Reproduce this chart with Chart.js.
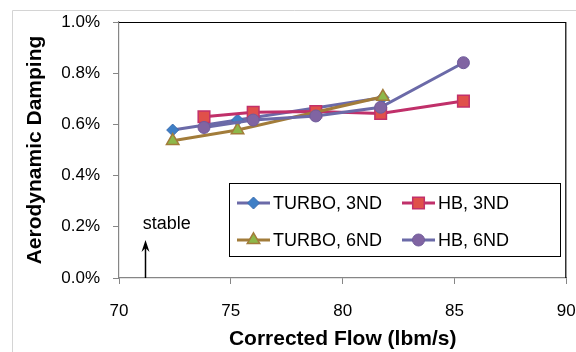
<!DOCTYPE html>
<html>
<head>
<meta charset="utf-8">
<script src="https://cdn.jsdelivr.net/npm/chart.js@4/dist/chart.umd.min.js"></script>
<style>
  body { margin: 0; background: #fff; }
  #wrap { width: 576px; height: 352px; }
</style>
</head>
<body>
<div id="wrap"><canvas id="myChart" width="576" height="352"></canvas></div>
<script>
const ctx = document.getElementById('myChart');

// corrected flow (lbm/s) and aerodynamic damping (%)
const flowTurbo3 = [72.4, 75.3, 81.8];
const dampTurbo3 = [0.578, 0.617, 0.705];
const flowHB3 = [73.8, 76.0, 78.8, 81.7, 85.4];
const dampHB3 = [0.630, 0.647, 0.650, 0.643, 0.691];
const flowTurbo6 = [72.4, 75.3, 81.8];
const dampTurbo6 = [0.536, 0.578, 0.708];
const flowHB6 = [73.8, 76.0, 78.8, 81.7, 85.4];
const dampHB6 = [0.588, 0.617, 0.633, 0.667, 0.841];

const xTicks = [70, 75, 80, 85, 90];
const yTicks = [0, 0.2, 0.4, 0.6, 0.8, 1.0];

const pts = (xs, ys) => xs.map((x, i) => ({x: x, y: ys[i]}));

Chart.defaults.font.family = '"Liberation Sans", Arial, sans-serif';
Chart.defaults.color = '#000';

// light frame round the whole chart + black top/right plot border
const frame = {
    id: 'frame',
    beforeDraw(chart) {
        const c = chart.ctx;
        c.save();
        c.fillStyle = '#fff';
        c.fillRect(0, 0, chart.width, chart.height);
        c.strokeStyle = '#d4d4d4';
        c.lineWidth = 1;
        c.beginPath();
        c.moveTo(12.5, chart.height);
        c.lineTo(12.5, 10.5);
        c.lineTo(chart.width, 10.5);
        c.stroke();
        c.restore();
    },
    beforeDatasetsDraw(chart) {
        const a = chart.chartArea;
        const c = chart.ctx;
        c.save();
        c.strokeStyle = '#000';
        c.lineWidth = 1.2;
        c.beginPath();
        c.moveTo(a.left, a.top + 0.5);
        c.lineTo(a.right - 0.5, a.top + 0.5);
        c.lineTo(a.right - 0.5, a.bottom);
        c.stroke();
        c.restore();
    }
};

// "stable" note with arrow
const stableNote = {
    id: 'stableNote',
    afterDatasetsDraw(chart) {
        const c = chart.ctx;
        const xs = chart.scales.x, ys = chart.scales.y;
        const x = Math.round(xs.getPixelForValue(71.15)) + 0.5;
        const y0 = ys.getPixelForValue(0);
        const tip = ys.getPixelForValue(0.148);
        c.save();
        c.strokeStyle = '#000';
        c.fillStyle = '#000';
        c.lineWidth = 1.5;
        c.beginPath();
        c.moveTo(x, y0);
        c.lineTo(x, tip + 4);
        c.stroke();
        c.beginPath();
        c.moveTo(x, tip);
        c.lineTo(x - 4, tip + 12);
        c.lineTo(x, tip + 8);
        c.lineTo(x + 4, tip + 12);
        c.closePath();
        c.fill();
        c.font = '18px "Liberation Sans", Arial, sans-serif';
        c.textBaseline = 'alphabetic';
        c.fillText('stable', xs.getPixelForValue(71.06), ys.getPixelForValue(0.19));
        c.restore();
    }
};

// boxed two-column legend inside the plot
const boxLegend = {
    id: 'boxLegend',
    afterDatasetsDraw(chart) {
        const c = chart.ctx;
        c.save();
        c.fillStyle = '#fff';
        c.fillRect(229.5, 183.5, 331, 73);
        c.strokeStyle = '#000';
        c.lineWidth = 1;
        c.strokeRect(229.5, 183.5, 331, 73);
        const cells = [[237, 203], [402, 203], [237, 240], [402, 240]];
        chart.data.datasets.forEach((ds, i) => {
            const [x, y] = cells[i];
            c.strokeStyle = ds.borderColor;
            c.lineWidth = ds.borderWidth;
            c.beginPath();
            c.moveTo(x, y);
            c.lineTo(x + 33, y);
            c.stroke();
            c.fillStyle = ds.pointBackgroundColor;
            c.strokeStyle = ds.pointBorderColor;
            c.lineWidth = ds.pointBorderWidth;
            Chart.helpers.drawPoint(c, {
                pointStyle: ds.pointStyle,
                radius: ds.pointRadius,
                borderWidth: ds.pointBorderWidth,
                rotation: 0
            }, x + 16.5, y);
            c.fillStyle = '#000';
            c.font = '18px "Liberation Sans", Arial, sans-serif';
            c.textBaseline = 'middle';
            c.fillText(ds.label, x + 36, y + 1);
        });
        c.restore();
    }
};

new Chart(ctx, {
    type: 'line',
    data: {
        datasets: [{
            label: 'TURBO, 3ND',
            data: pts(flowTurbo3, dampTurbo3),
            borderColor: '#6b6aa8',
            borderWidth: 3,
            pointStyle: 'rectRot',
            pointRadius: 6,
            pointBackgroundColor: '#3f7fc6',
            pointBorderColor: '#3a6db0',
            pointBorderWidth: 1,
            order: 3
        }, {
            label: 'HB, 3ND',
            data: pts(flowHB3, dampHB3),
            borderColor: '#c0306a',
            borderWidth: 3,
            pointStyle: 'rect',
            pointRadius: 8.2,
            pointBackgroundColor: '#e0504a',
            pointBorderColor: '#c2306a',
            pointBorderWidth: 1.5,
            order: 2
        }, {
            label: 'TURBO, 6ND',
            data: pts(flowTurbo6, dampTurbo6),
            borderColor: '#a27c3a',
            borderWidth: 3,
            pointStyle: 'triangle',
            pointRadius: 7.2,
            pointBackgroundColor: '#8db84a',
            pointBorderColor: '#a27c3a',
            pointBorderWidth: 1.5,
            order: 1
        }, {
            label: 'HB, 6ND',
            data: pts(flowHB6, dampHB6),
            borderColor: '#6b6aa8',
            borderWidth: 3,
            pointStyle: 'circle',
            pointRadius: 6,
            pointBackgroundColor: '#8064a2',
            pointBorderColor: '#6f5c9c',
            pointBorderWidth: 1,
            order: 0
        }]
    },
    options: {
        responsive: false,
        animation: false,
        layout: { padding: { top: 22, right: 9, left: 0, bottom: 0 } },
        plugins: {
            legend: { display: false },
            tooltip: { enabled: false }
        },
        scales: {
            x: {
                type: 'linear',
                min: 70,
                max: 90,
                afterBuildTicks: s => { s.ticks = xTicks.map(v => ({value: v})); },
                afterFit: s => { s.height = 74; s.paddingLeft = 0; s.paddingRight = 0; },
                grid: { display: true, drawOnChartArea: false, drawTicks: true, tickLength: 6, color: '#868686' },
                border: { display: true, color: '#868686', width: 1.2 },
                ticks: { padding: 17, font: { size: 17 }, color: '#000' },
                title: {
                    display: true,
                    text: 'Corrected Flow (lbm/s)',
                    font: { size: 21, weight: 'bold' },
                    padding: { top: 0, bottom: 0 }
                }
            },
            y: {
                min: 0,
                max: 1.0,
                afterBuildTicks: s => { s.ticks = yTicks.map(v => ({value: v})); },
                afterFit: s => { s.width = 119; s.paddingTop = 0; s.paddingBottom = 0; },
                grid: { display: true, drawOnChartArea: false, drawTicks: true, tickLength: 6, color: '#868686' },
                border: { display: true, color: '#868686', width: 1.2 },
                ticks: {
                    padding: 13,
                    font: { size: 17 },
                    color: '#000',
                    callback: v => v.toFixed(1) + '%'
                },
                title: {
                    display: true,
                    text: 'Aerodynamic Damping',
                    font: { size: 21, weight: 'bold' },
                    padding: { top: 23, bottom: 0 }
                }
            }
        }
    },
    plugins: [frame, stableNote, boxLegend]
});
</script>
</body>
</html>
